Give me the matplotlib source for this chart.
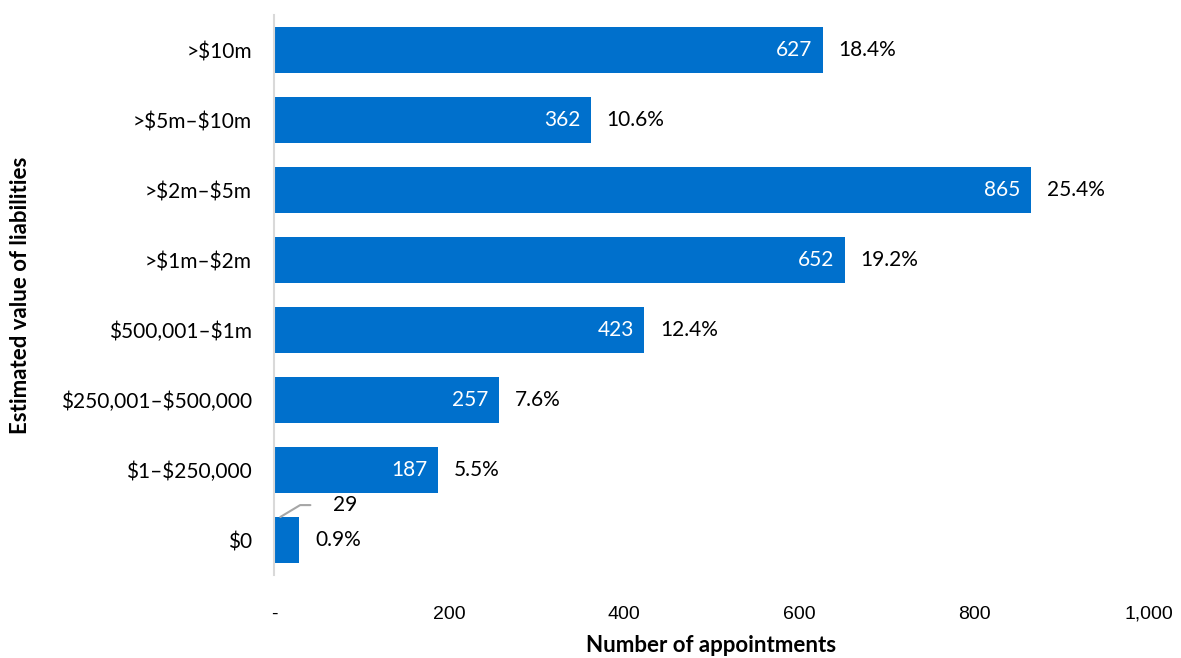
import matplotlib.pyplot as plt
from matplotlib.ticker import FuncFormatter

plt.rcParams['text.parse_math'] = False

categories = ['$0', '$1–$250,000', '$250,001–$500,000', '$500,001–$1m',
              '>$1m–$2m', '>$2m–$5m', '>$5m–$10m', '>$10m']
counts = [29, 187, 257, 423, 652, 865, 362, 627]
shares = ['0.9%', '5.5%', '7.6%', '12.4%', '19.2%', '25.4%', '10.6%', '18.4%']

BLUE = '#0070CC'
LABEL_FONT = ['Lato', 'DejaVu Sans']
TICK_FONT = ['Liberation Sans', 'DejaVu Sans']
FS = 15

fig = plt.figure(figsize=(11.81, 6.58), dpi=100)
ax = fig.add_axes([0.232, 0.126, 0.741, 0.851])

ypos = list(range(len(categories)))
ax.barh(ypos, counts, height=0.66, color=BLUE, zorder=2)

for y, v, s in zip(ypos, counts, shares):
    if v > 100:
        ax.text(v - 12, y, str(v), color='white', ha='right', va='center',
                fontsize=FS, family=LABEL_FONT)
    ax.text(v + 18, y, s, color='black', ha='left', va='center',
            fontsize=FS, family=LABEL_FONT)

# small bar: value label pulled out with a leader line
small = counts[0]
ax.annotate(str(small), xy=(small * 0.25, 0.33), xytext=(small + 38, 0.5),
            ha='left', va='center', fontsize=FS, family=LABEL_FONT,
            arrowprops=dict(arrowstyle='-', color='#A6A6A6', lw=1.5,
                            connectionstyle='angle,angleA=0,angleB=31,rad=0',
                            shrinkA=14, shrinkB=0))

ax.set_xlim(0, 1000)
ax.set_ylim(-0.5, len(categories) - 0.5)
ax.set_xticks([0, 200, 400, 600, 800, 1000])
ax.xaxis.set_major_formatter(FuncFormatter(lambda v, p: '-' if v == 0 else f'{int(v):,}'))
ax.set_yticks(ypos)
ax.set_yticklabels(categories, family=LABEL_FONT, fontsize=FS)
for lbl in ax.get_xticklabels():
    lbl.set_family(TICK_FONT)
    lbl.set_fontsize(14)

ax.tick_params(axis='x', length=0, pad=22)
ax.tick_params(axis='y', length=0, pad=16)
for side in ['top', 'right', 'bottom']:
    ax.spines[side].set_visible(False)
ax.spines['left'].set_color('#D9D9D9')
ax.spines['left'].set_linewidth(1.5)

xl = ax.set_xlabel('Number of appointments', fontsize=16, fontweight='bold',
                   family=LABEL_FONT)
yl = ax.set_ylabel('Estimated value of liabilities', fontsize=16, fontweight='bold',
                   family=LABEL_FONT)
xl.set_va('center')
yl.set_va('center')
ax.xaxis.set_label_coords(0.5, -0.125)
ax.yaxis.set_label_coords(-0.290, 0.5)

plt.savefig('out.png', dpi=100)
